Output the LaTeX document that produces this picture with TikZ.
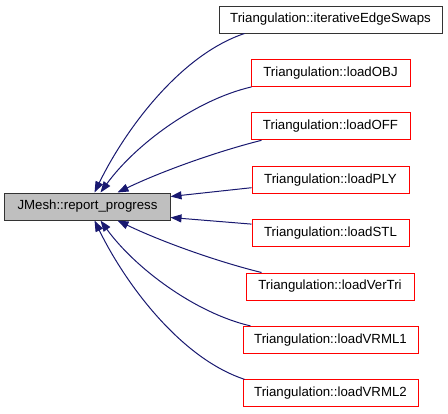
\documentclass[tikz,border=0pt]{standalone}
\usepackage{fontspec}
\setmainfont{Liberation Sans}
\usetikzlibrary{arrows.meta}
\definecolor{edgeblue}{HTML}{191970}
\definecolor{nodered}{HTML}{FF0000}
\definecolor{mainfill}{HTML}{BFBFBF}
\definecolor{boxline}{HTML}{333333}
\begin{document}
\begin{tikzpicture}[x=1bp,y=-1bp,
  box/.style={draw=boxline, line width=1bp, minimum height=27bp, inner sep=0pt, fill=white,
              font=\fontsize{13.3}{15}\selectfont},
  redbox/.style={box, draw=nodered},
  mainbox/.style={box, fill=mainfill, draw=boxline},
  conn/.style={draw=edgeblue, line width=1bp, -{Triangle[length=11bp,width=8bp]}}]
\useasboundingbox (0,0) rectangle (448,413);
\node[mainbox, minimum width=165bp] (main) at (87.5,206.5) {JMesh::report\_progress};
\node[box, minimum width=223bp] (iter) at (330.5,19.5) {Triangulation::iterativeEdgeSwaps};
\node[redbox, minimum width=159bp] (obj) at (330.5,72.9) {Triangulation::loadOBJ};
\node[redbox, minimum width=159bp] (off) at (330.5,126.3) {Triangulation::loadOFF};
\node[redbox, minimum width=157bp] (ply) at (330.5,179.7) {Triangulation::loadPLY};
\node[redbox, minimum width=157bp] (stl) at (330.5,233.1) {Triangulation::loadSTL};
\node[redbox, minimum width=168bp] (vertri) at (330,286.5) {Triangulation::loadVerTri};
\node[redbox, minimum width=175bp] (vrml1) at (330.5,339.9) {Triangulation::loadVRML1};
\node[redbox, minimum width=175bp] (vrml2) at (330.5,393.3) {Triangulation::loadVRML2};
% top connectors
\draw[conn] ([xshift=26bp]iter.south west) .. controls (180,55) and (125,130) .. ([xshift=90bp]main.north west);
\draw[conn] ([xshift=1bp]obj.south west) .. controls (195,100) and (135,145) .. ([xshift=96bp]main.north west);
\draw[conn] ([xshift=11bp]off.south west) .. controls (215,152) and (160,172) .. ([xshift=113bp]main.north west);
\draw[conn] ([yshift=-8bp]ply.west) -- ([yshift=-4bp]main.north east);
% bottom connectors
\draw[conn] ([yshift=9bp]stl.west) -- ([yshift=3bp]main.south east);
\draw[conn] ([xshift=16bp]vertri.north west) .. controls (215,261) and (160,241) .. ([xshift=113bp]main.south west);
\draw[conn] ([xshift=8bp]vrml1.north west) .. controls (195,313) and (135,268) .. ([xshift=96bp]main.south west);
\draw[conn] ([xshift=2bp]vrml2.north west) .. controls (180,358) and (125,283) .. ([xshift=90bp]main.south west);
\end{tikzpicture}
\end{document}
